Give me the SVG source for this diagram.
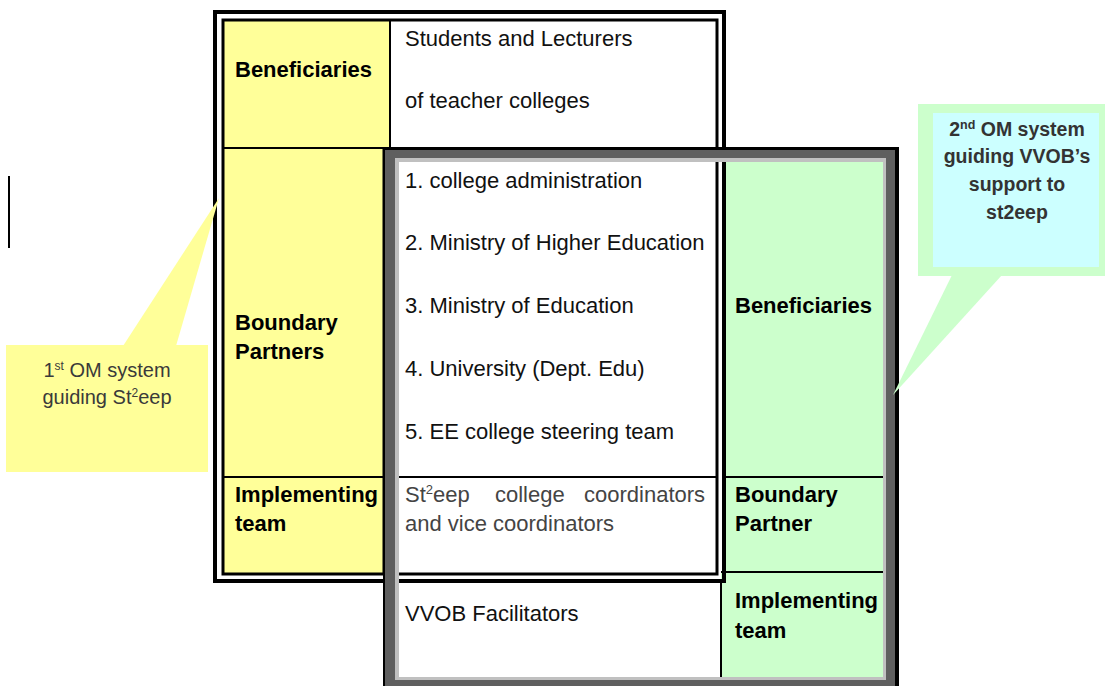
<svg xmlns="http://www.w3.org/2000/svg" width="1105" height="686" viewBox="0 0 1105 686">
  <style>
    text { font-family: "Liberation Sans", Arial, sans-serif; }
    .head { font-size: 22px; font-weight: bold; fill: #000; }
    .body { font-size: 22px; fill: #111; }
    .soft { font-size: 22px; fill: #444; }
    .note1 { font-size: 20px; fill: #3a3a3a; text-anchor: middle; }
    .note2 { font-size: 19.5px; font-weight: bold; fill: #333; text-anchor: middle; }
    .rule { stroke: #000; stroke-width: 2; fill: none; }
    .yellow { fill: #FFFF99; }
    .green { fill: #CCFFCC; }
  </style>

  <!-- stray vertical rule at the far left -->
  <line x1="9" y1="176" x2="9" y2="248" stroke="#000" stroke-width="2"/>

  <!-- inner area of the second (VVOB) system -->
  <g id="vvob-body">
    <rect x="399" y="162" width="484" height="515" fill="#fff"/>
    <rect class="green" x="726" y="162" width="157" height="410"/>
    <rect class="green" x="721" y="572" width="162" height="105"/>
  </g>

  <!-- first OM system table -->
  <g id="st2eep-table">
    <rect class="yellow" x="223" y="20" width="167" height="128"/>
    <rect x="390" y="20" width="327" height="128" fill="#fff"/>
    <rect class="yellow" x="223" y="148" width="160" height="329"/>
    <rect class="yellow" x="223" y="477" width="160" height="97"/>
    <!-- double border -->
    <rect x="215" y="12" width="509" height="569" fill="none" stroke="#000" stroke-width="4"/>
    <rect x="223" y="20" width="494" height="554" fill="none" stroke="#000" stroke-width="3"/>
    <!-- cell dividers -->
    <line class="rule" x1="390" y1="20" x2="390" y2="148" stroke-width="2.5"/>
    <line class="rule" x1="223" y1="148" x2="390" y2="148"/>
    <line class="rule" x1="383.5" y1="148" x2="383.5" y2="574" stroke-width="3"/>
    <line class="rule" x1="223" y1="477" x2="383" y2="477"/>
    <line class="rule" x1="399" y1="477" x2="717" y2="477"/>
  </g>

  <!-- frame of the second OM system (drawn over the first table) -->
  <g id="vvob-frame">
    <path fill="#000" fill-rule="evenodd" d="M383,147 H899 V700 H383 Z M385,150 V700 H895 V150 Z"/>
    <path fill="#5f5f5f" fill-rule="evenodd" d="M385,150 H895 V690 H385 Z M395,158 V680 H886 V158 Z"/>
    <path fill="#c0c0c0" fill-rule="evenodd" d="M395,158 H886 V680 H395 Z M399,162 V677 H883 V162 Z"/>
    <!-- cell dividers inside -->
    <line class="rule" x1="726" y1="477" x2="883" y2="477"/>
    <line class="rule" x1="721" y1="572" x2="883" y2="572"/>
    <line class="rule" x1="721" y1="581" x2="721" y2="677"/>
  </g>

  <!-- row labels, first system -->
  <g id="beneficiaries-1">
    <text class="head" x="235" y="77">Beneficiaries</text>
    <text class="body" x="405" y="46">Students and Lecturers</text>
    <text class="body" x="405" y="108">of teacher colleges</text>
  </g>
  <g id="boundary-partners-1">
    <text class="head" x="235" y="330">Boundary</text>
    <text class="head" x="235" y="359">Partners</text>
    <text class="body" x="405" y="188">1. college administration</text>
    <text class="body" x="405" y="250">2. Ministry of Higher Education</text>
    <text class="body" x="405" y="313">3. Ministry of Education</text>
    <text class="body" x="405" y="376">4. University (Dept. Edu)</text>
    <text class="body" x="405" y="439">5. EE college steering team</text>
  </g>
  <g id="implementing-team-1">
    <text class="head" x="235" y="502">Implementing</text>
    <text class="head" x="235" y="531">team</text>
    <text class="soft" x="405" y="502">St<tspan font-size="13" dy="-8">2</tspan><tspan dy="8">eep</tspan></text>
    <text class="soft" x="495" y="502">college</text>
    <text class="soft" x="584" y="502">coordinators</text>
    <text class="soft" x="405" y="531">and vice coordinators</text>
  </g>

  <!-- row labels, second system -->
  <g id="beneficiaries-2">
    <text class="head" x="735" y="313">Beneficiaries</text>
  </g>
  <g id="boundary-partner-2">
    <text class="head" x="735" y="502">Boundary</text>
    <text class="head" x="735" y="531">Partner</text>
  </g>
  <g id="implementing-team-2">
    <text class="head" x="735" y="608">Implementing</text>
    <text class="head" x="735" y="638">team</text>
    <text class="body" x="405" y="621">VVOB Facilitators</text>
  </g>

  <!-- callouts -->
  <g id="callout-first">
    <polygon class="yellow" points="123,346 176,346 219,198"/>
    <rect class="yellow" x="6" y="345" width="202" height="127"/>
    <text class="note1" x="107" y="377">1<tspan font-size="12" dy="-7">st</tspan><tspan dy="7"> OM system</tspan></text>
    <text class="note1" x="107" y="404">guiding St<tspan font-size="12" dy="-7">2</tspan><tspan dy="7">eep</tspan></text>
  </g>
  <g id="callout-second">
    <polygon class="green" points="952,275 1002,275 893,395"/>
    <rect class="green" x="918" y="104" width="187" height="172"/>
    <rect x="933" y="113" width="166" height="154" fill="#CCFFFF"/>
    <text class="note2" x="1017" y="136">2<tspan font-size="12.5" dy="-7">nd</tspan><tspan dy="7"> OM system</tspan></text>
    <text class="note2" x="1017" y="163">guiding VVOB’s</text>
    <text class="note2" x="1017" y="191">support to</text>
    <text class="note2" x="1017" y="219">st2eep</text>
  </g>
</svg>
